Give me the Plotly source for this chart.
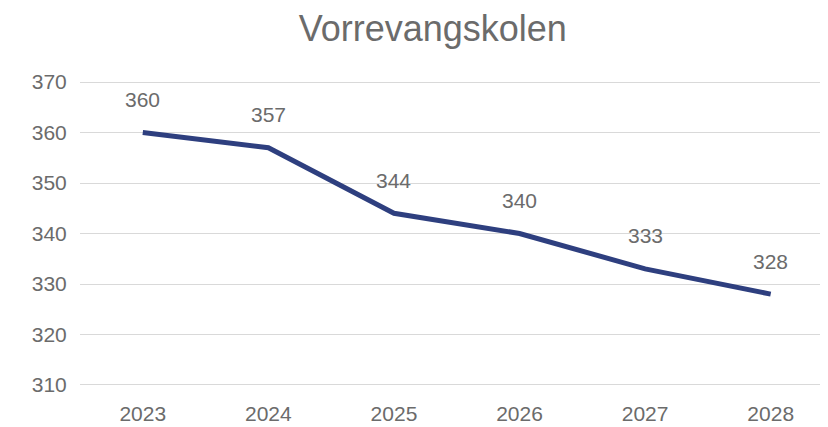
import plotly.graph_objects as go

years = ["2023", "2024", "2025", "2026", "2027", "2028"]
values = [360, 357, 344, 340, 333, 328]
title = "Vorrevangskolen"

FONT = "Liberation Sans, Arial"
GRAY = "#6b6b6b"

fig = go.Figure()
fig.add_trace(go.Scatter(
    x=years, y=values, mode="lines",
    line=dict(color="#2E3F7F", width=5),
    hoverinfo="skip",
))
for i, v in enumerate(values):
    fig.add_annotation(x=i, y=v, xref="x", yref="y", text=str(v), showarrow=False, yshift=33,
                       font=dict(family=FONT, size=21, color=GRAY))

fig.update_layout(
    width=828, height=427,
    margin=dict(l=72, r=0, t=73, b=49),
    paper_bgcolor="white", plot_bgcolor="white",
    showlegend=False,
    title=dict(text=title, x=0.513, xanchor="center", y=0.952, yanchor="middle",
               font=dict(family=FONT, size=36, color=GRAY)),
    font=dict(family=FONT, size=21, color=GRAY),
)
fig.update_xaxes(type="category", range=[-0.5, 5.52], showgrid=False, zeroline=False,
                 showline=False, ticks="outside", ticklen=9, tickcolor="white",
                 tickfont=dict(size=21, color=GRAY))
fig.update_yaxes(range=[309.8, 370.2], dtick=10, tick0=310, showgrid=True, gridcolor="#d9d9d9",
                 gridwidth=1.3, zeroline=False, showline=False, ticks="outside", ticklen=8,
                 tickcolor="white", tickfont=dict(size=21, color=GRAY))

fig.write_html("out.html")
